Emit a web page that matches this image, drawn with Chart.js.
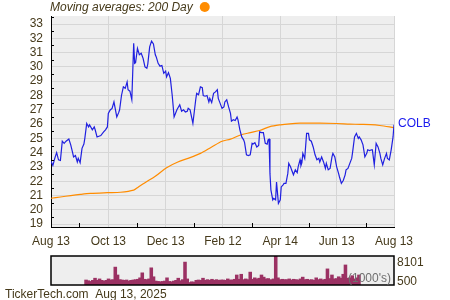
<!DOCTYPE html>
<html><head><meta charset="utf-8">
<script src="https://cdn.jsdelivr.net/npm/chart.js@4.4.1/dist/chart.umd.min.js"></script>
<style>
html,body{margin:0;padding:0;background:#fff;width:450px;height:300px;overflow:hidden}
#pc{position:absolute;left:0;top:0}
#vc{position:absolute;left:0;top:250px}
</style></head><body>
<canvas id="pc" width="450" height="250"></canvas>
<canvas id="vc" width="450" height="50"></canvas>
<script>
const xTickDays = [0, 61, 122, 183, 244, 304, 365];
const xTickLabels = ['Aug 13', 'Oct 13', 'Dec 13', 'Feb 12', 'Apr 14', 'Jun 13', 'Aug 13'];
const xMinorDays = [30, 91, 152, 214, 275, 335];
const yTickValues = [19, 20, 21, 22, 23, 24, 25, 26, 27, 28, 29, 30, 31, 32, 33];
const ticker = 'COLB';

const priceDays = [0,2,4,6,8,10,12,14,16,19,21,23,24,26,28,29,31,33,35,36,38,40,41,44,46,47,49,51,53,56,58,60,61,63,65,67,68,70,72,73,75,77,79,81,82,84,86,88,89,90,92,94,96,98,100,102,103,105,107,109,111,112,114,116,118,120,122,123,125,127,129,131,134,137,139,141,143,145,146,148,151,154,155,157,159,161,162,164,166,168,169,171,173,175,177,178,180,182,184,185,187,189,191,192,194,196,198,199,201,203,205,206,208,210,212,214,215,217,219,221,222,224,226,228,230,231,232,233,234,236,237,239,240,242,244,245,247,248,250,252,253,255,256,258,260,262,263,265,266,267,268,270,272,274,275,277,279,281,283,285,286,288,290,292,293,295,297,299,300,302,304,306,307,309,311,313,314,316,318,320,321,323,325,327,328,330,332,334,336,337,339,341,342,344,346,348,350,351,353,355,357,358,360,362,364,365];
const priceValues = [23.4,23.1,23.6,24.0,23.5,23.45,24.8,24.65,24.8,24.95,24.55,24.0,23.7,23.8,23.35,23.6,23.3,24.3,24.6,25.0,26.05,25.8,25.95,25.6,25.8,25.6,25.1,25.15,25.2,25.45,25.6,25.8,26.75,26.99,27.1,27.55,27.2,26.5,26.8,27.0,28.0,28.6,28.5,28.95,28.4,28.3,27.7,31.65,30.25,30.3,31.3,30.85,30.95,30.6,30.0,29.9,30.2,31.4,31.8,31.6,30.85,30.7,30.25,30.05,30.1,29.55,29.7,29.3,29.6,29.2,28.0,26.5,27.0,27.35,26.9,27.0,26.85,26.9,27.1,27.0,26.05,27.7,28.15,28.05,28.6,28.55,28.0,27.95,28.0,27.55,27.8,27.5,28.15,28.25,28.4,27.8,27.45,27.1,27.2,27.55,27.7,27.2,26.75,26.2,26.3,26.25,26.5,26.3,25.6,25.1,24.9,24.7,23.85,23.8,23.85,24.65,24.6,24.7,24.4,24.5,25.45,25.4,25.4,24.65,24.6,24.9,24.95,22.55,21.4,20.7,20.8,20.7,21.95,20.45,20.7,21.6,21.75,21.85,21.85,22.55,23.25,23.0,22.8,22.45,22.8,22.6,23.0,23.5,23.1,23.3,23.95,23.6,25.35,25.35,24.9,24.8,24.4,23.85,23.5,23.6,23.35,23.7,23.35,22.9,23.25,22.8,22.9,23.7,23.95,23.7,23.0,22.55,22.3,21.85,22.05,22.45,22.8,22.9,23.25,23.6,24.05,25.1,25.35,25.0,25.1,24.9,24.55,23.7,23.95,24.2,24.15,24.2,24.2,23.15,24.65,24.4,23.95,23.6,23.15,23.6,23.95,23.6,23.5,24.2,25.1,25.95];

const maDays = [0,10,21,31,42,60,74,88,93,100,111,123,135,148,159,171,182,191,201,212,222,233,244,254,265,286,304,318,329,340,350,365];
const maValues = [20.81,20.9,21.0,21.08,21.15,21.2,21.23,21.38,21.6,21.9,22.35,22.95,23.35,23.65,23.95,24.4,24.8,24.95,25.22,25.4,25.55,25.82,25.95,26.02,26.06,26.06,26.04,26.0,25.98,25.96,25.9,25.75];

const volDays = [0,3,6,9,12,15,18,21,24,27,30,33,36,39,42,45,48,51,54,57,60,63,66,69,72,75,78,81,84,87,90,93,96,99,102,105,108,111,114,117,120,123,126,129,132,135,138,141,144,147,150,153,156,159,162,165,168,171,174,177,180,183,186,189,192,195,198,201,204,207,210,213,216,219,222,225,228,231,234,237,240,243,246,250,253,256,259,262,265,268,271,274,277,280,283,286,289,292,295,298,301,304,307,310,313,316,319,322,325,328,331,334,337,340,343,346,349,352,355,358,361,364];
const volValues = [1400,1200,1000,1300,1900,1300,1700,1300,1100,1300,1700,1400,1500,5000,2800,1500,1400,1300,1400,1100,1300,1400,1500,1600,2000,3400,1600,1500,1700,4800,2300,1100,1000,900,1000,1100,2000,1000,900,1100,1300,1900,1200,1500,6400,1700,700,900,800,1300,1400,1300,1900,1300,1500,1300,1600,1300,1500,1300,1400,1400,1300,1700,1400,1400,1600,2800,1600,3000,1500,1700,1500,3600,1600,2000,1700,1900,2800,2200,1700,1800,1500,1700,8101,2000,1500,1600,1500,1500,1700,1400,1600,1500,1400,1700,2200,1500,1600,1400,1500,1300,2000,1500,1700,1400,1600,4500,1800,2800,1700,1800,2300,1900,3000,5600,1900,2000,2600,1700,2000,2800];

const FONT = '"Liberation Sans", Arial, sans-serif';
const TXT = '#45391a';

const pricePlugin = {
  id: 'pricePlugin',
  beforeDraw(chart) {
    const {ctx, chartArea: a} = chart;
    ctx.save();
    ctx.fillStyle = '#eeeeee';
    ctx.fillRect(a.left, a.top, a.right - a.left, a.bottom - a.top);
    ctx.restore();
  },
  afterDraw(chart) {
    const {ctx, chartArea: a, scales} = chart;
    ctx.save();
    ctx.strokeStyle = '#000';
    ctx.lineWidth = 1;
    ctx.beginPath();
    xMinorDays.forEach(d => {
      const x = Math.round(scales.x.getPixelForValue(d)) + 0.5;
      ctx.moveTo(x, a.bottom); ctx.lineTo(x, a.bottom - 4);
    });
    for (let i = 0; i < yTickValues.length; i++) {
      const v = yTickValues[i] + 0.5;
      if (v > scales.y.max) continue;
      const y = Math.round(scales.y.getPixelForValue(v)) + 0.5;
      ctx.moveTo(a.left, y); ctx.lineTo(a.left + 3, y);
    }
    const y185 = Math.round(scales.y.getPixelForValue(yTickValues[0] - 0.5)) + 0.5;
    if (y185 < a.bottom) { ctx.moveTo(a.left, y185); ctx.lineTo(a.left + 3, y185); }
    ctx.stroke();
    ctx.font = 'italic 12px ' + FONT;
    ctx.fillStyle = TXT;
    ctx.textBaseline = 'middle';
    ctx.textAlign = 'left';
    const t = 'Moving averages: 200 Day';
    ctx.fillText(t, 50, 8);
    const w = ctx.measureText(t).width;
    ctx.fillStyle = '#ff8c00';
    ctx.beginPath();
    ctx.arc(50 + w + 12, 7, 5, 0, Math.PI * 2);
    ctx.fill();
    const last = priceValues[priceValues.length - 1];
    ctx.font = '12px ' + FONT;
    ctx.fillStyle = '#1a1aee';
    ctx.fillText(ticker, a.right + 4, scales.y.getPixelForValue(last) - 1);
    ctx.restore();
  }
};

new Chart(document.getElementById('pc'), {
  type: 'line',
  data: {
    datasets: [
      { data: priceDays.map((d, i) => ({x: d, y: priceValues[i]})), borderColor: '#2020e0', borderWidth: 1.2, pointRadius: 0, tension: 0, order: 1 },
      { data: maDays.map((d, i) => ({x: d, y: maValues[i]})), borderColor: '#ff8c00', borderWidth: 1.2, pointRadius: 0, tension: 0.3, order: 2 }
    ]
  },
  options: {
    responsive: false, animation: false, devicePixelRatio: 1,
    layout: { padding: { left: 0, right: 56, top: 16, bottom: 0 } },
    plugins: { legend: { display: false }, tooltip: { enabled: false } },
    scales: {
      x: {
        type: 'linear', min: 0, max: 365,
        afterBuildTicks: s => { s.ticks = xTickDays.map(v => ({ value: v })); },
        afterFit: s => { s.height = 23; },
        ticks: { callback: (v, i) => xTickLabels[i], font: { family: FONT, size: 12 }, color: TXT, padding: 7, maxRotation: 0, autoSkip: false },
        grid: { color: '#d6d6d6', drawTicks: false },
        border: { color: '#000', width: 1 }
      },
      y: {
        min: 18.8, max: 33.56,
        afterBuildTicks: s => { s.ticks = yTickValues.map(v => ({ value: v })); },
        afterFit: s => { s.width = 51; },
        ticks: { callback: v => String(v), font: { family: FONT, size: 12 }, color: TXT, padding: 8, autoSkip: false },
        grid: { color: '#d6d6d6', drawTicks: false },
        border: { color: '#000', width: 1 }
      }
    }
  },
  plugins: [pricePlugin]
});

const volPlugin = {
  id: 'volPlugin',
  beforeDraw(chart) {
    const {ctx, chartArea: a} = chart;
    ctx.save();
    ctx.fillStyle = '#eeeeee';
    ctx.fillRect(a.left, a.top, a.right - a.left, a.bottom - a.top);
    ctx.restore();
  },
  afterDraw(chart) {
    const {ctx, chartArea: a} = chart;
    ctx.save();
    ctx.strokeStyle = '#000';
    ctx.lineWidth = 1.5;
    ctx.strokeRect(a.left, a.top, a.right - a.left, a.bottom - a.top);
    ctx.font = '12px ' + FONT;
    ctx.textBaseline = 'middle';
    ctx.textAlign = 'right';
    ctx.fillStyle = '#6f6f6f';
    ctx.fillText("(1000's)", a.right - 3, a.bottom - 6);
    ctx.textAlign = 'left';
    ctx.fillStyle = TXT;
    ctx.fillText(String(Math.max(...volValues)), a.right + 3, a.top + 7);
    ctx.fillText('500', a.right + 3, a.bottom - 3);
    ctx.fillText('TickerTech.com  Aug 13, 2025', 5, 45);
    ctx.restore();
  }
};

new Chart(document.getElementById('vc'), {
  type: 'bar',
  data: {
    datasets: [{ data: volDays.map((d, i) => ({x: d, y: volValues[i]})), backgroundColor: '#9b3163', barThickness: 2.9 }]
  },
  options: {
    responsive: false, animation: false, devicePixelRatio: 1,
    layout: { padding: { left: 51, right: 56, top: 6, bottom: 15 } },
    plugins: { legend: { display: false }, tooltip: { enabled: false } },
    scales: {
      x: { type: 'linear', min: -1, max: 365, display: false },
      y: { min: 0, max: 8101, display: false }
    }
  },
  plugins: [volPlugin]
});
</script>
</body></html>
